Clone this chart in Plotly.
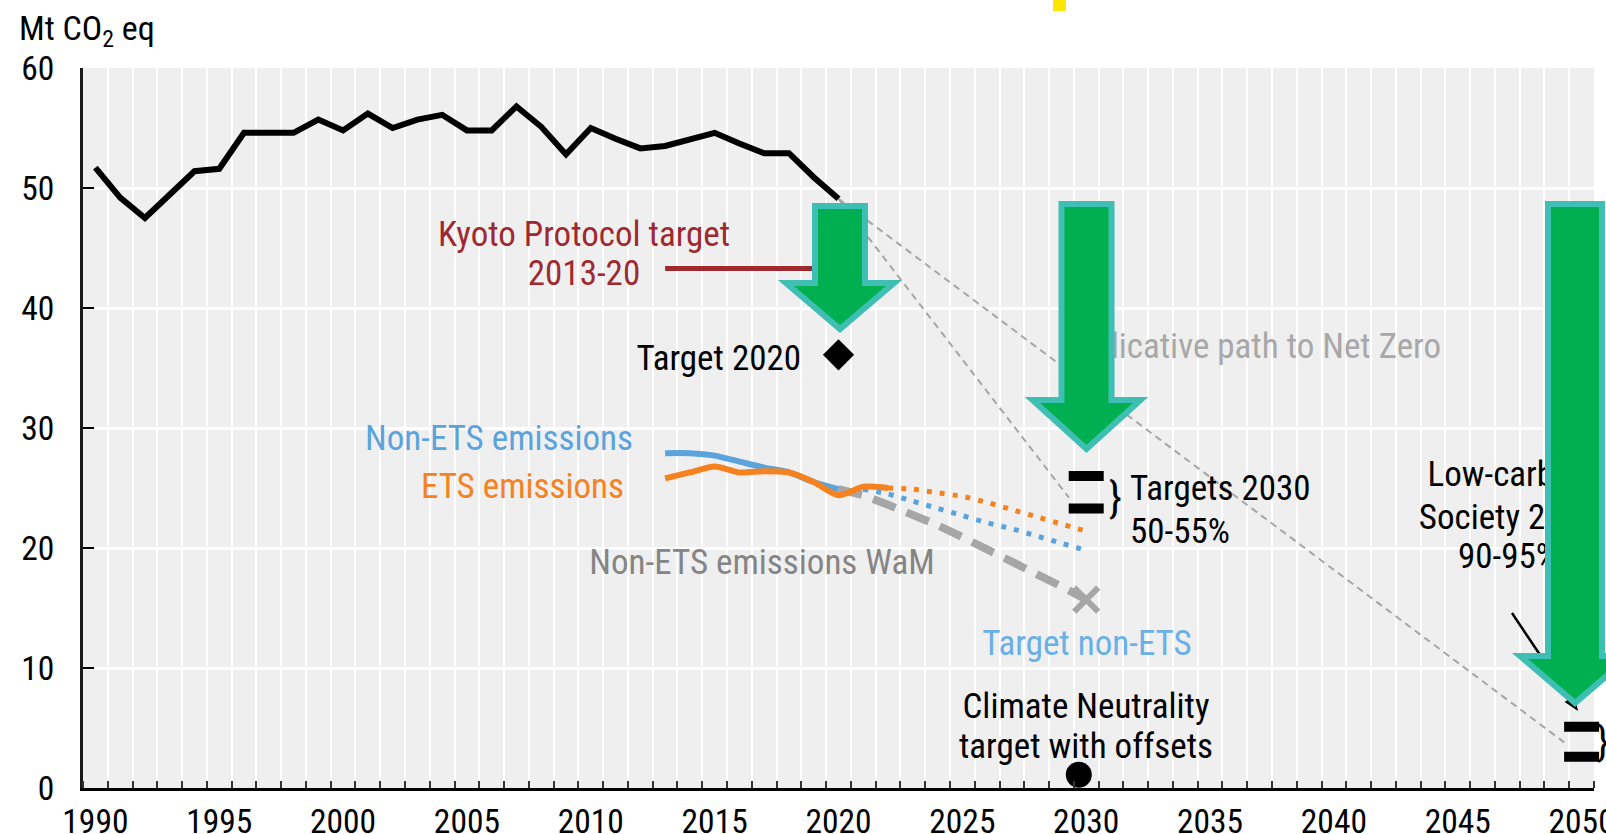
import plotly.graph_objects as go

# ---------------- data ----------------
years_total = list(range(1990, 2021))
total_emissions = [51.7, 49.2, 47.5, 49.5, 51.4, 51.6, 54.6, 54.6, 54.6, 55.7,
                   54.8, 56.2, 55.0, 55.7, 56.1, 54.8, 54.8, 56.8, 55.1, 52.8,
                   55.0, 54.1, 53.3, 53.5, 54.0, 54.6, 53.7, 52.9, 52.9, 50.9, 49.1]

kyoto_years = [2013, 2020]
kyoto_target = [43.3, 43.3]

target2020_year = [2020]
target2020 = [36.1]

targets2030_year = [2030, 2030]
targets2030 = [26.0, 23.3]

targets2050_year = [2050, 2050]
targets2050 = [5.1, 2.6]

path2030_years = [2020, 2029.3]
path2030 = [49.1, 24.2]
path2050_years = [2020, 2049.3]
path2050 = [49.1, 3.8]

non_ets_years = list(range(2013, 2021))
non_ets = [27.9, 27.9, 27.7, 27.2, 26.7, 26.3, 25.5, 24.9]

ets_years = list(range(2013, 2023))
ets = [25.8, 26.3, 26.8, 26.3, 26.4, 26.3, 25.5, 24.4, 25.1, 25.0]

ets_proj_years = list(range(2022, 2031))
ets_proj = [25.0, 24.9, 24.6, 24.3, 23.8, 23.2, 22.6, 22.0, 21.4]

non_ets_proj_years = list(range(2021, 2031))
non_ets_proj = [24.9, 24.5, 23.9, 23.3, 22.7, 22.1, 21.6, 21.0, 20.4, 19.8]

wam_years = list(range(2020, 2031))
wam = [24.9, 24.4, 23.6, 22.8, 21.9, 20.9, 19.9, 18.9, 17.8, 16.8, 15.7]

target_non_ets_year = [2030]
target_non_ets = [15.7]

neutrality_year = [2029.7]
neutrality = [1.1]

x_tick_years = list(range(1990, 2051, 5))
y_ticks = [0, 10, 20, 30, 40, 50, 60]

# ---------------- styling / layout helpers ----------------
FONT = "Liberation Sans Narrow, Arial Narrow, Roboto Condensed, DejaVu Sans Condensed, sans-serif"
W, H = 1606, 834
# plot area in screenshot pixels
L, R, T, B = 83, 1594, 68, 788
X0, X1 = 1989.5, 2050.5
Y0, Y1 = 0, 60

BLACK = "#000000"
BLUE = "#5ba3dc"
ORANGE = "#f5821f"
KYOTO = "#9e2a30"
GREY = "#a6a6a6"
GREEN = "#00b050"
TEAL = "#3fbfb3"


def dx(px):
    return X0 + (px - L) / (R - L) * (X1 - X0)


def dy(py):
    return Y0 + (B - py) / (B - T) * (Y1 - Y0)


def ppx(px):
    return (px - L) / (R - L)


def ppy(py):
    return (B - py) / (B - T)


fig = go.Figure()


def line(x, y, color, width, dash="solid", shape="linear", smooth=None):
    ln = dict(color=color, width=width, dash=dash, shape=shape)
    if smooth is not None:
        ln["smoothing"] = smooth
    fig.add_trace(go.Scatter(x=x, y=y, mode="lines", line=ln,
                             hoverinfo="skip", showlegend=False))


# indicative paths (thin dashed)
line(path2030_years, path2030, GREY, 2, dash="7px,5px")
line(path2050_years, path2050, GREY, 2, dash="7px,5px")
# WaM projection
line(wam_years, wam, GREY, 8, dash="24px,12px")
# dotted projections
line(non_ets_proj_years, non_ets_proj, BLUE, 5, dash="5px,8px", shape="spline", smooth=0.6)
line(ets_proj_years, ets_proj, ORANGE, 5, dash="5px,8px", shape="spline", smooth=0.6)
# historical
line(non_ets_years, non_ets, BLUE, 6, shape="spline", smooth=0.7)
line(ets_years, ets, ORANGE, 6, shape="spline", smooth=0.7)
line(years_total, total_emissions, BLACK, 6)
line(kyoto_years, kyoto_target, KYOTO, 5)


def markers(x, y, symbol, size, color, lw=0, lc=None):
    fig.add_trace(go.Scatter(
        x=x, y=y, mode="markers", hoverinfo="skip", showlegend=False,
        cliponaxis=False,
        marker=dict(symbol=symbol, size=size, color=color,
                    line=dict(width=lw, color=lc or color))))


markers(target2020_year, target2020, "diamond", 24, BLACK)
markers(targets2030_year, targets2030, "line-ew-open", 25, BLACK, lw=10)
markers(targets2050_year, targets2050, "line-ew-open", 25, BLACK, lw=10)
markers(target_non_ets_year, target_non_ets, "x-thin-open", 24, GREY, lw=6)
markers(neutrality_year, neutrality, "circle", 26, BLACK)

# ---------------- text labels (as text traces, so arrows can cover them) ----------------
labels = [
    ("Kyoto Protocol target", 584, 237, KYOTO, "middle center"),
    ("2013-20", 584, 276, KYOTO, "middle center"),
    ("Target 2020", 801, 361, BLACK, "middle left"),
    ("Non-ETS emissions", 633, 441, BLUE, "middle left"),
    ("ETS emissions", 624, 489, ORANGE, "middle left"),
    ("Non-ETS emissions WaM", 762, 565, "#858585", "middle center"),
    ("Target non-ETS", 1087, 646, "#6aafe6", "middle center"),
    ("Climate Neutrality", 1086, 709, BLACK, "middle center"),
    ("target with offsets", 1086, 749, BLACK, "middle center"),
    ("Targets 2030", 1130, 491, BLACK, "middle right"),
    ("50-55%", 1130, 534, BLACK, "middle right"),
    ("Indicative path to Net Zero", 1441, 349, "#a8a8a8", "middle left"),
    ("Low-carbon", 1508, 477, BLACK, "middle center"),
    ("Society 2050", 1508, 520, BLACK, "middle center"),
    ("90-95%", 1508, 559, BLACK, "middle center"),
]
for text, px, py, color, pos in labels:
    fig.add_trace(go.Scatter(
        x=[dx(px)], y=[dy(py)], mode="text", text=[text], textposition=pos,
        textfont=dict(family=FONT, size=35, color=color),
        cliponaxis=False, hoverinfo="skip", showlegend=False))

# ---------------- shapes ----------------
shapes = []


def poly(points, fill, lc, lw):
    path = "M " + " L ".join(f"{ppx(a):.5f},{ppy(b):.5f}" for a, b in points) + " Z"
    shapes.append(dict(type="path", path=path, xref="paper", yref="paper",
                       fillcolor=fill, line=dict(color=lc, width=lw), layer="above"))


# small black pointer to 2050 targets
sx, sy, tx, ty = 1512, 613, 1578, 711
shapes.append(dict(type="line", xref="paper", yref="paper",
                   x0=ppx(sx), y0=ppy(sy), x1=ppx(tx - 7), y1=ppy(ty - 10),
                   line=dict(color=BLACK, width=2.5), layer="above"))
ux, uy = (tx - sx), (ty - sy)
n = (ux ** 2 + uy ** 2) ** 0.5
ux, uy = ux / n, uy / n
bx, by = tx - 15 * ux, ty - 15 * uy
poly([(tx, ty), (bx - 6 * uy, by + 6 * ux), (bx + 6 * uy, by - 6 * ux)], BLACK, BLACK, 0)


def arrow(cx, top, head_y, tip_y, sh, hh):
    pts = [(cx - sh, top), (cx + sh, top), (cx + sh, head_y), (cx + hh, head_y),
           (cx, tip_y), (cx - hh, head_y), (cx - sh, head_y)]
    poly(pts, GREEN, TEAL, 6)


arrow(840, 206, 283, 329, 25, 54)
arrow(1086.5, 204, 400, 449, 25, 54)
arrow(1575, 204, 656, 703, 27, 55)

# stray yellow mark at the top
shapes.append(dict(type="rect", xref="paper", yref="paper",
                   x0=ppx(1053), x1=ppx(1066), y0=ppy(11), y1=ppy(0),
                   fillcolor="#ffe600", line=dict(width=0), layer="above"))

annotations = [
    dict(text="Mt CO<sub>2</sub> eq", xref="paper", yref="paper",
         x=ppx(17), y=ppy(31), xanchor="left", yanchor="middle", showarrow=False,
         font=dict(family=FONT, size=34, color=BLACK)),
    dict(text="}", xref="paper", yref="paper", x=ppx(1115), y=ppy(497),
         xanchor="center", yanchor="middle", showarrow=False,
         font=dict(family=FONT, size=42, color=BLACK)),
    dict(text="}", xref="paper", yref="paper", x=ppx(1603), y=ppy(741),
         xanchor="center", yanchor="middle", showarrow=False,
         font=dict(family=FONT, size=40, color=BLACK)),
]

fig.update_layout(
    width=W, height=H,
    margin=dict(l=L, r=W - R, t=T, b=H - B, pad=0, autoexpand=False),
    paper_bgcolor="white", plot_bgcolor="#efefef",
    font=dict(family=FONT, size=34, color=BLACK),
    showlegend=False,
    shapes=shapes, annotations=annotations,
    xaxis=dict(
        range=[X0, X1], tickmode="array", tickvals=x_tick_years,
        ticktext=[str(v) for v in x_tick_years],
        ticks="", showgrid=False, zeroline=False, automargin=False,
        ticklabeloverflow="allow",
        showline=True, linecolor=BLACK, linewidth=3,
        tickfont=dict(family=FONT, size=33.5, color=BLACK),
        ticklabelstandoff=2,
        minor=dict(tick0=1989.5, dtick=1, ticks="inside", ticklen=7,
                   tickwidth=2, tickcolor="#333333",
                   showgrid=True, gridcolor="white", gridwidth=2),
    ),
    yaxis=dict(
        range=[Y0, Y1], tickmode="array", tickvals=y_ticks,
        ticks="inside", ticklen=11, tickwidth=2, tickcolor=BLACK,
        showgrid=True, gridcolor="white", gridwidth=3, zeroline=False,
        automargin=False, ticklabeloverflow="allow",
        showline=True, linecolor="#1a1a1a", linewidth=3,
        tickfont=dict(family=FONT, size=33.5, color=BLACK),
        ticklabelstandoff=19,
    ),
)

fig.write_html("out.html",
               config={"displayModeBar": False},
               post_script="document.body.style.margin='0px';"
                           "document.body.style.overflow='hidden';")
